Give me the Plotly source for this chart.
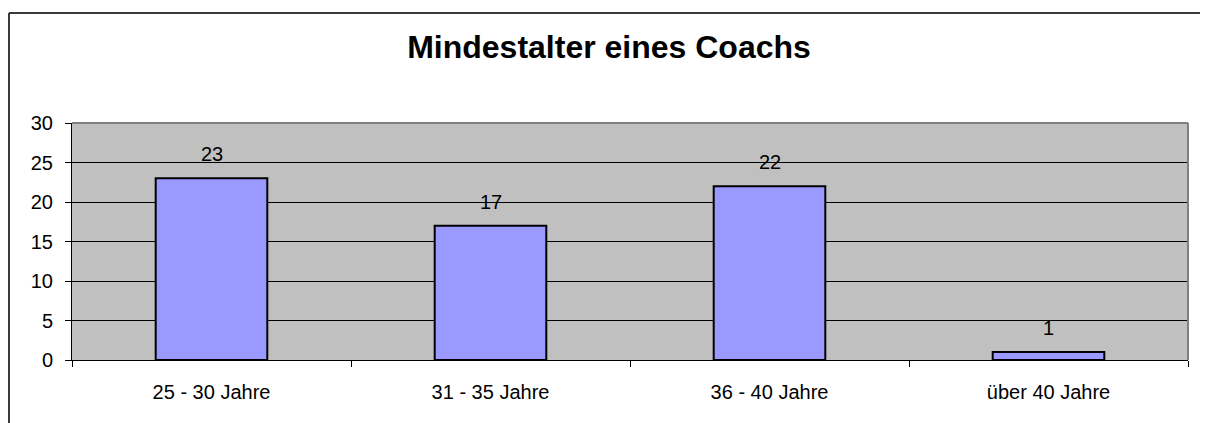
import plotly.graph_objects as go

categories = ["25 - 30 Jahre", "31 - 35 Jahre", "36 - 40 Jahre", "über 40 Jahre"]
values = [23, 17, 22, 1]
y_ticks = [0, 5, 10, 15, 20, 25, 30]
title_text = "Mindestalter eines Coachs"

# page has an 8px body margin; lay out in page pixels and shift
OFF = 8
W, H = 1208 - OFF, 423 - OFF
ML, MR, MT, MB = 72 - OFF, 20, 123 - OFF, 63
PW, PH = W - ML - MR, H - MT - MB

FONT = "Arial, 'Liberation Sans', sans-serif"

fig = go.Figure()
fig.add_trace(go.Bar(
    x=categories, y=values,
    marker=dict(color="#9999FF", line=dict(color="#000000", width=2)),
    width=0.4,
    hoverinfo="skip",
))

for c, v in zip(categories, values):
    fig.add_annotation(x=c, y=v, text=str(v), showarrow=False,
                       xref="x", yref="y", yanchor="middle", yshift=24,
                       font=dict(family=FONT, size=20, color="#000000"))

def px_x(p):
    return (p - OFF - ML) / PW

def px_y(p):
    return (H - MB - (p - OFF)) / PH

shapes = [
    dict(type="line", xref="paper", yref="paper", x0=0, x1=1, y0=1, y1=1,
         line=dict(color="#808080", width=2)),
    dict(type="line", xref="paper", yref="paper", x0=1, x1=1, y0=0, y1=1,
         line=dict(color="#808080", width=2)),
    dict(type="line", xref="paper", yref="paper", x0=px_x(9), x1=px_x(9),
         y0=px_y(440), y1=px_y(13), line=dict(color="#3a3a3a", width=2)),
    dict(type="line", xref="paper", yref="paper", x0=px_x(9), x1=px_x(1220),
         y0=px_y(13), y1=px_y(13), line=dict(color="#3a3a3a", width=2)),
]

fig.update_layout(
    width=W, height=H, autosize=False,
    margin=dict(l=ML, r=MR, t=MT, b=MB, pad=0),
    paper_bgcolor="#FFFFFF", plot_bgcolor="#C0C0C0",
    showlegend=False, bargap=0.6,
    font=dict(family=FONT, size=20, color="#000000"),
    title=dict(text="<b>" + title_text + "</b>", xref="container", yref="container",
               x=(609 - OFF) / W, y=1 - (47 - OFF) / H, xanchor="center", yanchor="middle",
               font=dict(family=FONT, size=32, color="#000000")),
    shapes=shapes,
    xaxis=dict(type="category", showgrid=False, showline=True, linecolor="#000000",
               linewidth=1, ticks="outside", tickson="boundaries", ticklen=6,
               tickcolor="#000000", tickwidth=1, ticklabelstandoff=14,
               tickfont=dict(family=FONT, size=20, color="#000000"), zeroline=False,
               fixedrange=True),
    yaxis=dict(range=[0, 30], tickvals=y_ticks, ticktext=[str(t) for t in y_ticks],
               showgrid=True, gridcolor="#000000", gridwidth=1, showline=True,
               linecolor="#000000", linewidth=1, ticks="outside", ticklen=6,
               tickcolor="#000000", tickwidth=1, zeroline=False,
               tickfont=dict(family=FONT, size=20, color="#000000"),
               ticklabelstandoff=8, fixedrange=True),
)

fig.write_html("out.html", config={"displayModeBar": False})
